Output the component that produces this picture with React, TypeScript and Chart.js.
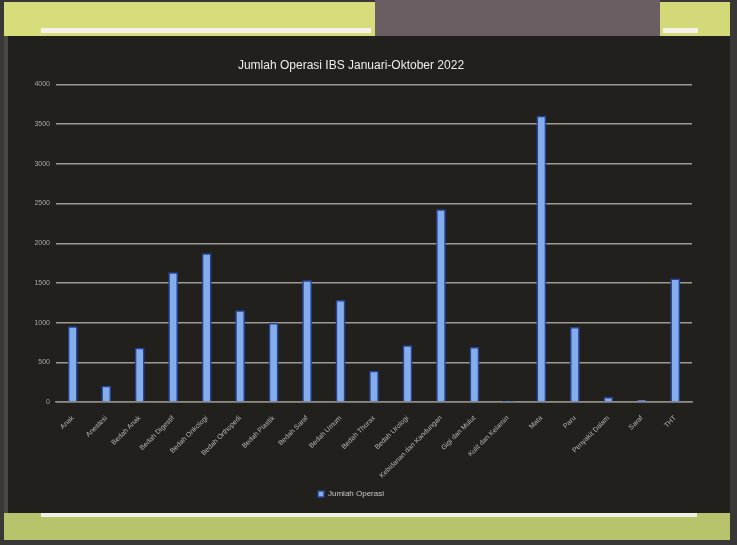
import React, { useEffect, useRef } from "react";
import { Chart, registerables } from "chart.js";

Chart.register(...registerables);

const TITLE = "Jumlah Operasi IBS Januari-Oktober 2022";
const SERIES_LABEL = "Jumlah Operasi";

const categories = [
  "Anak",
  "Anestesi",
  "Bedah Anak",
  "Bedah Digestif",
  "Bedah Onkologi",
  "Bedah Orthopedi",
  "Bedah Plastik",
  "Bedah Saraf",
  "Bedah Umum",
  "Bedah Thorax",
  "Bedah Urologi",
  "Kebidanan dan Kandungan",
  "Gigi dan Mulut",
  "Kulit dan Kelamin",
  "Mata",
  "Paru",
  "Penyakit Dalam",
  "Saraf",
  "THT",
];

const operations = [
  950, 200, 680, 1630, 1870, 1150, 990, 1530, 1280, 390,
  710, 2425, 690, 5, 3600, 940, 60, 20, 1550,
];

const yTicks = [0, 500, 1000, 1500, 2000, 2500, 3000, 3500, 4000];

const FONT = "'Liberation Sans', Arial, sans-serif";

// soft dark-blue halo behind the bars
const barGlow = {
  id: "barGlow",
  beforeDatasetsDraw(chart: any) {
    const ctx = chart.ctx;
    ctx.save();
    ctx.shadowColor = "rgba(40,70,170,0.8)";
    ctx.shadowBlur = 4;
  },
  afterDatasetsDraw(chart: any) {
    chart.ctx.restore();
  },
};

function OperationsChart() {
  const canvasRef = useRef<HTMLCanvasElement | null>(null);

  useEffect(() => {
    const canvas = canvasRef.current;
    if (!canvas) return;
    const chart = new Chart(canvas, {
      type: "bar",
      data: {
        labels: categories,
        datasets: [
          {
            label: SERIES_LABEL,
            data: operations,
            backgroundColor: "#84adec",
            borderColor: "rgba(40,68,148,0.95)",
            borderWidth: 1.5,
            barThickness: 9,
          },
        ],
      },
      plugins: [barGlow],
      options: {
        responsive: false,
        animation: false,
        layout: { padding: { left: 5, right: 36, top: 0, bottom: 4 } },
        plugins: {
          title: {
            display: true,
            text: TITLE,
            color: "#eeeeea",
            font: { family: FONT, size: 12, weight: "normal" },
            padding: { top: 22, bottom: 12 },
          },
          legend: {
            position: "bottom",
            labels: {
              color: "#c8c8c2",
              font: { family: FONT, size: 8 },
              boxWidth: 6,
              boxHeight: 6,
              padding: 10,
            },
          },
          tooltip: { enabled: false },
        },
        scales: {
          x: {
            grid: { display: false },
            border: { color: "#8e8c84", width: 1.5 },
            ticks: {
              color: "#b8b8b0",
              font: { family: FONT, size: 7 },
              minRotation: 45,
              maxRotation: 45,
              autoSkip: false,
              padding: 4,
            },
            afterFit: (scale: any) => {
              scale.height = 78;
            },
          },
          y: {
            min: 0,
            max: 4000,
            afterBuildTicks: (scale: any) => {
              scale.ticks = yTicks.map((v) => ({ value: v }));
            },
            grid: { color: "#9c9a92", lineWidth: 1.4, drawTicks: false },
            border: { display: false },
            ticks: {
              color: "#a8a8a2",
              font: { family: FONT, size: 7 },
              padding: 6,
              callback: (v: any) => String(v),
            },
            afterFit: (scale: any) => {
              scale.width = 46;
            },
          },
        },
      },
    });
    return () => chart.destroy();
  }, []);

  return <canvas ref={canvasRef} width={723} height={476} />;
}

export default function App() {
  return (
    <div
      style={{
        position: "fixed",
        left: 0,
        top: 0,
        width: 737,
        height: 545,
        background: "#3a3836",
        overflow: "hidden",
      }}
    >
      {/* top frame band */}
      <div style={{ position: "absolute", left: 4, top: 2, width: 371, height: 34, background: "#d8dd7c" }} />
      <div style={{ position: "absolute", left: 375, top: 0, width: 285, height: 36, background: "#6a5e62" }} />
      <div style={{ position: "absolute", left: 660, top: 2, width: 70, height: 34, background: "#d3d978" }} />
      <div style={{ position: "absolute", left: 41, top: 28, width: 330, height: 5, background: "#f4f2ea" }} />
      <div style={{ position: "absolute", left: 663, top: 28, width: 35, height: 5, background: "#f4f2ea" }} />
      {/* slide body */}
      <div style={{ position: "absolute", left: 4, top: 36, width: 726, height: 477, background: "#22201d" }} />
      <div style={{ position: "absolute", left: 4, top: 36, width: 4, height: 477, background: "#4a4845" }} />
      {/* bottom frame band */}
      <div style={{ position: "absolute", left: 4, top: 513, width: 726, height: 27, background: "#b9c36c" }} />
      <div style={{ position: "absolute", left: 41, top: 513, width: 656, height: 4, background: "#f2f0e6" }} />
      <div style={{ position: "absolute", left: 5, top: 36 }}>
        <OperationsChart />
      </div>
    </div>
  );
}
